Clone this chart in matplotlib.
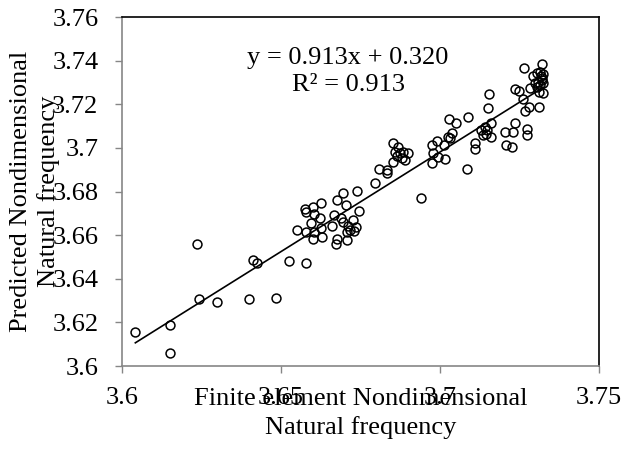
import matplotlib
matplotlib.use('Agg')
import matplotlib.pyplot as plt

# Finite element vs predicted nondimensional natural frequency
fe_freq = [3.6042, 3.6151, 3.6151, 3.6236, 3.6243, 3.6300, 3.6400, 3.6413, 3.6424, 3.6484,
           3.6526, 3.6578,
           3.6551, 3.6575, 3.6579, 3.6602, 3.6625, 3.6605, 3.6623, 3.6593, 3.6579, 3.6604,
           3.6625, 3.6600, 3.6628, 3.6659, 3.6675, 3.6696, 3.6704, 3.6738, 3.6667, 3.6688,
           3.6677, 3.6673, 3.6709, 3.6712, 3.6717, 3.6725, 3.6730, 3.6736, 3.6746, 3.6709,
           3.6696,
           3.6796, 3.6808, 3.6832, 3.6834, 3.6853, 3.6851, 3.6858, 3.6869, 3.6874, 3.6880,
           3.6885, 3.6890, 3.6900, 3.6864, 3.6940,
           3.6974, 3.6990, 3.6974, 3.6979, 3.6995, 3.7011, 3.7016, 3.7029, 3.7050, 3.7031,
           3.7037, 3.7026, 3.7089, 3.7084,
           3.7111, 3.7111, 3.7128, 3.7142, 3.7145, 3.7159, 3.7152, 3.7159, 3.7204, 3.7208,
           3.7155, 3.7136, 3.7149,
           3.7236, 3.7249, 3.7264, 3.7262, 3.7283, 3.7267, 3.7281, 3.7312, 3.7236, 3.7231,
           3.7273, 3.7273, 3.7225, 3.7320, 3.7293, 3.7304, 3.7314, 3.7325, 3.7299, 3.7309,
           3.7325, 3.7320, 3.7312, 3.7325, 3.7306, 3.7318, 3.7322, 3.7315]
predicted_freq = [3.6157, 3.6187, 3.6058, 3.6561, 3.6309, 3.6293, 3.6309, 3.6486, 3.6471, 3.6310,
                  3.6483, 3.6471,
                  3.6624, 3.6718, 3.6707, 3.6730, 3.6746, 3.6697, 3.6677, 3.6657, 3.6616, 3.6616,
                  3.6631, 3.6581, 3.6590, 3.6643, 3.6761, 3.6795, 3.6738, 3.6802, 3.6692, 3.6677,
                  3.6581, 3.6559, 3.6578, 3.6642, 3.6624, 3.6669, 3.6620, 3.6639, 3.6712, 3.6616,
                  3.6662,
                  3.6838, 3.6902, 3.6899, 3.6886, 3.7024, 3.6937, 3.6983, 3.7005, 3.6975, 3.6952,
                  3.6983, 3.6945, 3.6978, 3.6963, 3.6769,
                  3.7013, 3.7032, 3.6929, 3.6975, 3.6960, 3.7013, 3.6947, 3.7131, 3.7116, 3.7044,
                  3.7067, 3.7051, 3.7140, 3.6903,
                  3.7021, 3.6994, 3.7082, 3.7097, 3.7064, 3.7116, 3.7182, 3.7051, 3.7074, 3.7013,
                  3.7247, 3.7059, 3.7082,
                  3.7269, 3.7262, 3.7365, 3.7223, 3.7273, 3.7171, 3.7189, 3.7186, 3.7116, 3.7074,
                  3.7085, 3.7059, 3.7005, 3.7385, 3.7330, 3.7342, 3.7349, 3.7339, 3.7296, 3.7304,
                  3.7296, 3.7319, 3.7258, 3.7253, 3.7281, 3.7328, 3.7310, 3.7290]

slope = 0.913
intercept = 0.320
r_squared = 0.913

x_ticks = [3.6, 3.65, 3.7, 3.75]
x_tick_labels = ['3.6', '3.65', '3.7', '3.75']
y_ticks = [3.6, 3.62, 3.64, 3.66, 3.68, 3.7, 3.72, 3.74, 3.76]
y_tick_labels = ['3.6', '3.62', '3.64', '3.66', '3.68', '3.7', '3.72', '3.74', '3.76']

plt.rcParams['font.family'] = ['Liberation Serif', 'DejaVu Serif']
fs = 19
grey = '#868686'

fig = plt.figure(figsize=(6.23, 4.57), dpi=100)
ax = fig.add_axes([0.1958, 0.1991, 0.7657, 0.7637])

ax.plot(fe_freq, predicted_freq, linestyle='none', marker='o', markersize=6.4,
        markerfacecolor='none', markeredgecolor='black', markeredgewidth=1.1)

x0, x1 = min(fe_freq), max(fe_freq)
ax.plot([x0, x1], [slope * x0 + intercept, slope * x1 + intercept], color='black', linewidth=1.2)

ax.set_xlim(3.6, 3.75)
ax.set_ylim(3.6, 3.76)
ax.set_xticks(x_ticks)
ax.set_xticklabels(x_tick_labels)
ax.set_yticks(y_ticks)
ax.set_yticklabels(y_tick_labels)
ax.tick_params(direction='out', length=5, width=1, color=grey, labelsize=fs)
ax.tick_params(axis='x', pad=10)
ax.tick_params(axis='y', pad=12)

for side in ['left', 'bottom']:
    ax.spines[side].set_color(grey)
    ax.spines[side].set_linewidth(1.2)
for side in ['top', 'right']:
    ax.spines[side].set_color('black')
    ax.spines[side].set_linewidth(1.2)

ax.set_xlabel('Finite element Nondimensional\nNatural frequency', fontsize=fs, linespacing=1.3)
ax.xaxis.set_label_coords(0.5, -0.064)
ax.set_ylabel('Predicted Nondimensional\nNatural frequency', fontsize=fs, linespacing=1.3)
ax.yaxis.set_label_coords(-0.13, 0.5)

ax.text(0.474, 0.844, 'y = %.3fx + %.3f\nR² = %.3f' % (slope, intercept, r_squared),
        transform=ax.transAxes, ha='center', va='center', multialignment='center',
        fontsize=fs, linespacing=1.3)

fig.savefig('out.png', dpi=100)
